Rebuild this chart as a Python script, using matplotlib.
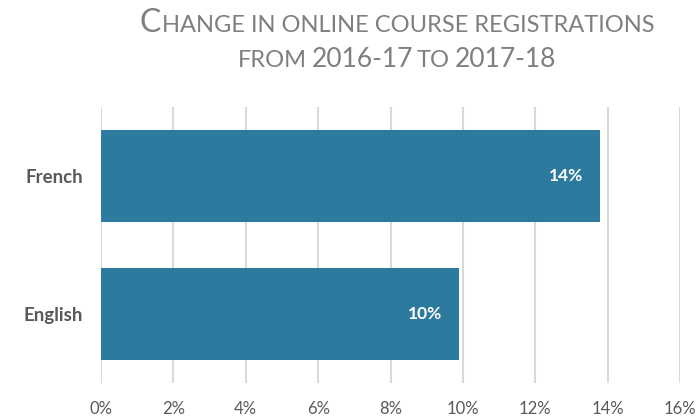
import matplotlib
matplotlib.use("Agg")
import matplotlib.pyplot as plt
from matplotlib.ticker import FuncFormatter
from matplotlib.offsetbox import TextArea, HPacker, VPacker, AnchoredOffsetbox

plt.rcParams['font.family'] = ['Lato', 'DejaVu Sans']

# data
categories = ['English', 'French']
values = [0.099, 0.138]
value_labels = ['10%', '14%']
x_ticks = [0, 0.02, 0.04, 0.06, 0.08, 0.10, 0.12, 0.14, 0.16]

bar_color = '#2c7a9e'
grid_color = '#d9d9d9'
text_color = '#595959'
title_color = '#7f7f7f'

fig = plt.figure(figsize=(6.96, 4.17), dpi=100)
ax = fig.add_axes([101 / 696, 1 - 383 / 417, (680 - 101) / 696, (383 - 107) / 417])

y = list(range(len(categories)))
bars = ax.barh(y, values, height=0.67, color=bar_color, zorder=3)

for b, lab in zip(bars, value_labels):
    ax.annotate(lab, (b.get_width(), b.get_y() + b.get_height() / 2),
                xytext=(-17, 0), textcoords='offset pixels',
                ha='right', va='center', color='white', fontsize=12.5,
                fontweight='bold', zorder=4)

ax.set_xlim(0, 0.16)
ax.set_ylim(-0.5, 1.5)
ax.set_xticks(x_ticks)
ax.xaxis.set_major_formatter(FuncFormatter(lambda v, p: f'{v * 100:.0f}%'))
ax.set_yticks(y)
ax.set_yticklabels(categories, fontweight='bold', fontsize=13.5)
ax.tick_params(axis='both', length=0, colors=text_color)
ax.tick_params(axis='x', pad=13, labelsize=12)
ax.tick_params(axis='y', pad=13)
ax.grid(axis='x', color=grid_color, linewidth=1.5, zorder=0)
for s in ax.spines.values():
    s.set_visible(False)

# small-caps style title
big = dict(color=title_color, fontsize=23)
small = dict(color=title_color, fontsize=17)
digits = dict(color=title_color, fontsize=19)
line1 = HPacker(children=[TextArea('C', textprops=big),
                          TextArea('HANGE IN ONLINE COURSE REGISTRATIONS', textprops=small)],
                align='baseline', pad=0, sep=1)
line2 = HPacker(children=[TextArea('FROM', textprops=small),
                          TextArea('2016-17', textprops=digits),
                          TextArea('TO', textprops=small),
                          TextArea('2017-18', textprops=digits)],
                align='baseline', pad=0, sep=3)
title = VPacker(children=[line1, line2], align='center', pad=0, sep=7)
anchored = AnchoredOffsetbox(loc='center', child=title, frameon=False,
                             bbox_to_anchor=(397 / 696, 1 - 40 / 417),
                             bbox_transform=fig.transFigure, borderpad=0, pad=0)
fig.add_artist(anchored)

fig.savefig('out.png', dpi=100)
